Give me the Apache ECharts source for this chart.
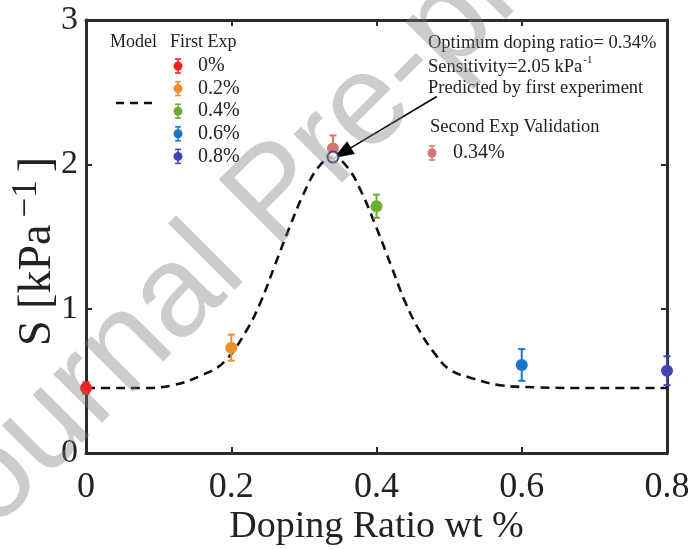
<!DOCTYPE html>
<html>
<head>
<meta charset="utf-8">
<script src="https://cdn.jsdelivr.net/npm/echarts@6/dist/echarts.min.js"></script>
<style>
  html, body { margin: 0; padding: 0; background: #fff; }
  #chart { width: 690px; height: 549px; }
</style>
</head>
<body>
<div id="chart"></div>
<script>
// First experiment: doping ratio (wt %), sensitivity S (kPa^-1), error half-widths
const firstExpNames = ['0%', '0.2%', '0.4%', '0.6%', '0.8%'];
const firstExpX = [0, 0.2, 0.4, 0.6, 0.8];
const firstExpS = [0.45, 0.73, 1.71, 0.61, 0.57];
const firstExpErr = [0.04, 0.09, 0.08, 0.11, 0.10];
const firstExpColors = ['#f2211f', '#ef8e2b', '#6bad31', '#1a76cc', '#4343b3'];

// Second experiment (validation at the predicted optimum)
const secondExpNames = ['0.34%'];
const secondExpX = [0.34];
const secondExpS = [2.11];
const secondExpErr = [0.09];
const secondExpColors = ['#d5766e'];

// Model prediction curve
const modelX = [0, 0.04, 0.08, 0.12, 0.16, 0.19, 0.22, 0.24, 0.26, 0.28, 0.30, 0.32, 0.34,
                0.36, 0.38, 0.40, 0.42, 0.44, 0.46, 0.48, 0.50, 0.53, 0.57, 0.62, 0.70, 0.80];
const modelS = [0.45, 0.45, 0.45, 0.47, 0.54, 0.63, 0.84, 1.04, 1.30, 1.56, 1.80, 1.98, 2.05,
                1.98, 1.80, 1.56, 1.30, 1.04, 0.84, 0.69, 0.58, 0.52, 0.47, 0.455, 0.45, 0.45];
const optimumX = [0.34];
const optimumS = [2.05];

// Arrow pointing at the optimum: [tail, head] in data units
const arrowFrom = [0.483, 2.47];
const arrowTo = [0.353, 2.08];

const annotationLines = ['Optimum doping ratio= 0.34%', 'Sensitivity=2.05 kPa', 'Predicted by first experiment'];

const SERIF = '"Liberation Serif", "Times New Roman", serif';
const TEXT = '#222';
const AXIS = '#2b2b2b';

// Point with vertical error bar, drawn through the chart's coordinate system
function errorPoint(colors, radius, cap) {
  return function (params, api) {
    const x = api.value(0), y = api.value(1), e = api.value(2);
    const c = api.coord([x, y]);
    const top = api.coord([x, y + e])[1];
    const bot = api.coord([x, y - e])[1];
    const color = colors[params.dataIndex];
    const ls = { stroke: color, lineWidth: 2 };
    return {
      type: 'group',
      children: [
        { type: 'line', shape: { x1: c[0], y1: top, x2: c[0], y2: bot }, style: ls },
        { type: 'line', shape: { x1: c[0] - cap, y1: top, x2: c[0] + cap, y2: top }, style: ls },
        { type: 'line', shape: { x1: c[0] - cap, y1: bot, x2: c[0] + cap, y2: bot }, style: ls },
        { type: 'circle', shape: { cx: c[0], cy: c[1], r: radius }, style: { fill: color } }
      ]
    };
  };
}

// Small legend glyph: dot with error bar
function legendGlyph(cx, cy, color) {
  const ls = { stroke: color, lineWidth: 1.5 };
  return [
    { type: 'line', shape: { x1: cx, y1: cy - 7, x2: cx, y2: cy + 7 }, style: ls, z: 50 },
    { type: 'line', shape: { x1: cx - 3, y1: cy - 7, x2: cx + 3, y2: cy - 7 }, style: ls, z: 50 },
    { type: 'line', shape: { x1: cx - 3, y1: cy + 7, x2: cx + 3, y2: cy + 7 }, style: ls, z: 50 },
    { type: 'circle', shape: { cx: cx, cy: cy, r: 4.5 }, style: { fill: color }, z: 50 }
  ];
}

const graphics = [];
// legend header
graphics.push({ type: 'text', x: 110, y: 42, z: 50,
  style: { text: 'Model', font: '18px ' + SERIF, fill: TEXT, textVerticalAlign: 'middle' } });
graphics.push({ type: 'text', x: 170, y: 42, z: 50,
  style: { text: 'First Exp', font: '18px ' + SERIF, fill: TEXT, textVerticalAlign: 'middle' } });
// model line sample
graphics.push({ type: 'line', z: 50, shape: { x1: 116, y1: 103, x2: 153, y2: 103 },
  style: { stroke: '#111', lineWidth: 2.4, lineDash: [8, 6] } });
// first-experiment entries
firstExpNames.forEach(function (name, i) {
  const cy = 66 + i * 22.6;
  legendGlyph(178, cy, firstExpColors[i]).forEach(function (g) { graphics.push(g); });
  graphics.push({ type: 'text', x: 198, y: cy, z: 50,
    style: { text: name, font: '20px ' + SERIF, fill: TEXT, textVerticalAlign: 'middle' } });
});
// annotation block
graphics.push({ type: 'text', x: 428, y: 43, z: 50,
  style: { text: annotationLines[0], font: '18.5px ' + SERIF, fill: TEXT, textVerticalAlign: 'middle' } });
graphics.push({ type: 'text', x: 428, y: 66, z: 50,
  style: {
    text: '{n|' + annotationLines[1] + '}{s|-1}',
    textVerticalAlign: 'middle',
    rich: {
      n: { font: '18.5px ' + SERIF, fill: TEXT, lineHeight: 22, verticalAlign: 'bottom' },
      s: { font: '11px ' + SERIF, fill: TEXT, lineHeight: 22, verticalAlign: 'top', padding: [0, 0, 10, 1] }
    }
  } });
graphics.push({ type: 'text', x: 428, y: 88.5, z: 50,
  style: { text: annotationLines[2], font: '18.5px ' + SERIF, fill: TEXT, textVerticalAlign: 'middle' } });
graphics.push({ type: 'text', x: 430, y: 127, z: 50,
  style: { text: 'Second Exp Validation', font: '18.5px ' + SERIF, fill: TEXT, textVerticalAlign: 'middle' } });
legendGlyph(432, 153, secondExpColors[0]).forEach(function (g) { graphics.push(g); });
graphics.push({ type: 'text', x: 453, y: 153, z: 50,
  style: { text: secondExpNames[0], font: '20px ' + SERIF, fill: TEXT, textVerticalAlign: 'middle' } });
// journal watermark
graphics.push({ type: 'text', x: -32, y: 598, rotation: Math.PI / 4, z: 100, silent: true,
  style: { text: 'Journal Pre-proof', font: '130px "Liberation Sans", Arial, sans-serif',
    fill: 'rgba(120,120,120,0.38)', textAlign: 'left', textVerticalAlign: 'bottom' } });

const chart = echarts.init(document.getElementById('chart'), null, { renderer: 'canvas' });

const axisCommon = {
  type: 'value',
  axisLine: { show: true, onZero: false, lineStyle: { color: AXIS, width: 3 } },
  axisTick: { show: true, inside: true, length: 6, lineStyle: { color: AXIS, width: 2 } },
  splitLine: { show: false }
};

chart.setOption({
  animation: false,
  backgroundColor: '#fff',
  grid: { left: 86, right: 23, top: 20, bottom: 96, containLabel: false, outerBoundsMode: 'none' },
  xAxis: [
    Object.assign({}, axisCommon, {
      min: 0, max: 0.8, interval: 0.2, position: 'bottom',
      axisLabel: { color: TEXT, fontFamily: SERIF, fontSize: 36, margin: 17 },
      name: 'Doping Ratio wt %', nameLocation: 'middle', nameGap: 55, nameMoveOverlap: false,
      nameTextStyle: { color: TEXT, fontFamily: SERIF, fontSize: 38 }
    }),
    Object.assign({}, axisCommon, {
      min: 0, max: 0.8, interval: 0.2, position: 'top', axisLabel: { show: false }
    })
  ],
  yAxis: [
    Object.assign({}, axisCommon, {
      min: 0, max: 3, interval: 1, position: 'left',
      axisLabel: { color: TEXT, fontFamily: SERIF, fontSize: 34, margin: 8 },
      name: '{a|S [kPa}{s|−1}{a|]}', nameLocation: 'middle', nameGap: 25, nameRotate: 90,
      nameMoveOverlap: false,
      nameTextStyle: {
        padding: [0, 30, 0, 0],
        rich: {
          a: { color: TEXT, fontFamily: SERIF, fontSize: 46, lineHeight: 52, verticalAlign: 'bottom' },
          s: { color: TEXT, fontFamily: SERIF, fontSize: 35, lineHeight: 36, verticalAlign: 'top',
               padding: [0, 8, 0, 7] }
        }
      }
    }),
    Object.assign({}, axisCommon, {
      min: 0, max: 3, interval: 1, position: 'right', axisLabel: { show: false }
    })
  ],
  graphic: graphics,
  series: [
    {
      name: 'Model',
      type: 'line',
      data: modelX.map(function (x, i) { return [x, modelS[i]]; }),
      smooth: 0.4,
      showSymbol: false,
      lineStyle: { color: '#111', width: 2.6, type: [9, 6] },
      z: 3,
      silent: true
    },
    {
      name: 'First Exp',
      type: 'custom',
      renderItem: errorPoint(firstExpColors, 6, 3.5),
      data: firstExpX.map(function (x, i) { return [x, firstExpS[i], firstExpErr[i]]; }),
      encode: { x: 0, y: 1 },
      clip: false,
      z: 5
    },
    {
      name: 'Second Exp Validation',
      type: 'custom',
      renderItem: errorPoint(secondExpColors, 6, 3.5),
      data: secondExpX.map(function (x, i) { return [x, secondExpS[i], secondExpErr[i]]; }),
      encode: { x: 0, y: 1 },
      clip: false,
      z: 5
    },
    {
      name: 'Optimum',
      type: 'scatter',
      data: optimumX.map(function (x, i) { return [x, optimumS[i]]; }),
      symbol: 'emptyCircle',
      symbolSize: 11,
      itemStyle: { color: '#1c2f6b', borderColor: '#1c2f6b', borderWidth: 2.5 },
      z: 6,
      silent: true,
      markLine: {
        silent: true,
        symbol: ['none', 'triangle'],
        symbolSize: [15, 20],
        label: { show: false },
        lineStyle: { color: '#000', width: 1.5, type: 'solid' },
        data: [[{ coord: arrowFrom }, { coord: arrowTo }]]
      }
    }
  ]
});
</script>
</body>
</html>
